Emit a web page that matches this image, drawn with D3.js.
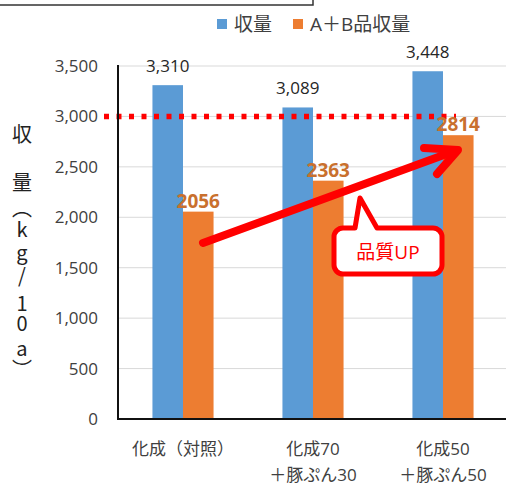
<!DOCTYPE html>
<html><head><meta charset="utf-8">
<script src="https://cdn.jsdelivr.net/npm/d3@7"></script>
<style>body{margin:0;background:#fff}svg{display:block}</style>
</head><body>
<svg id="c" width="506" height="485"></svg>
<script>
const categories = [["化成（対照）"], ["化成70", "＋豚ぷん30"], ["化成50", "＋豚ぷん50"]];
const seriesNames = ["収量", "A＋B品収量"];
const totalYield = [3310, 3089, 3448];
const abYield = [2056, 2363, 2814];
const yTicks = [0, 500, 1000, 1500, 2000, 2500, 3000, 3500];
const targetLine = 3000;
const yTitle = "収量︵kg/10a︶";

const FONT = "'Open Sans','Noto Sans CJK JP',sans-serif";
const colors = ["#5B9BD5", "#ED7D31"];
const svg = d3.select("#c");
const W = 506;

const y = d3.scaleLinear().domain([0, 3500]).range([419, 66]);
const x = d3.scaleBand().domain(d3.range(categories.length)).range([118, 508])
  .paddingInner(0.53).paddingOuter(0.265);
const xs = d3.scaleBand().domain(d3.range(seriesNames.length)).range([0, x.bandwidth()]);

// top box
svg.append("rect").attr("x", -5).attr("y", -20).attr("width", 318).attr("height", 25)
  .attr("fill", "#fff").attr("stroke", "#333").attr("stroke-width", 1.5);

// gridlines
svg.append("g").selectAll("line").data(yTicks.filter(d => d > 0)).join("line")
  .attr("x1", 118).attr("x2", W).attr("y1", d => y(d)).attr("y2", d => y(d))
  .attr("stroke", "#D9D9D9").attr("stroke-width", 1);

// y tick labels
const yAxis = d3.axisLeft(y).tickValues(yTicks).tickSize(0).tickPadding(0)
  .tickFormat(d3.format(","));
const ya = svg.append("g").attr("transform", "translate(98,0)").call(yAxis);
ya.select(".domain").remove();
ya.selectAll("text").attr("font-family", FONT).attr("font-size", 17).attr("fill", "#404040");

// bars
const series = [totalYield, abYield];
series.forEach((vals, si) => {
  svg.append("g").selectAll("rect").data(vals).join("rect")
    .attr("x", (d, i) => x(i) + xs(si)).attr("width", xs.bandwidth())
    .attr("y", d => y(d)).attr("height", d => y(0) - y(d))
    .attr("fill", colors[si]);
});

// target dotted line
svg.append("line").attr("x1", 104).attr("x2", 456).attr("y1", y(targetLine)).attr("y2", y(targetLine))
  .attr("stroke", "#FF0000").attr("stroke-width", 5.5).attr("stroke-dasharray", "5,7.5");

// axes lines
svg.append("line").attr("x1", 118).attr("x2", 118).attr("y1", 65).attr("y2", 420)
  .attr("stroke", "#111").attr("stroke-width", 2);
svg.append("line").attr("x1", 117).attr("x2", W).attr("y1", y(0)).attr("y2", y(0))
  .attr("stroke", "#111").attr("stroke-width", 2);

// value labels
svg.append("g").selectAll("text").data(totalYield).join("text")
  .attr("x", (d, i) => x(i) + xs(0) + xs.bandwidth() / 2).attr("y", d => y(d) - 13)
  .attr("text-anchor", "middle").attr("font-family", FONT).attr("font-size", 17)
  .attr("fill", "#262626").text(d => d3.format(",")(d));
svg.append("g").selectAll("text").data(abYield).join("text")
  .attr("x", (d, i) => x(i) + xs(1) + xs.bandwidth() / 2).attr("y", d => y(d) - 4)
  .attr("text-anchor", "middle").attr("font-family", FONT).attr("font-size", 19)
  .attr("font-weight", "bold").attr("fill", "#C9702E").text(d => d);

// x labels
categories.forEach((lines, i) => {
  const t = svg.append("text").attr("text-anchor", "middle").attr("font-family", FONT)
    .attr("font-size", 17).attr("fill", "#404040");
  lines.forEach((l, li) => {
    t.append("tspan").attr("x", x(i) + x.bandwidth() / 2).attr("y", 455 + li * 26).text(l);
  });
});

// legend
const lg = svg.append("g");
const legX = [217, 293];
seriesNames.forEach((n, i) => {
  lg.append("rect").attr("x", legX[i]).attr("y", 19).attr("width", 10).attr("height", 10).attr("fill", colors[i]);
  lg.append("text").attr("x", legX[i] + 17).attr("y", 31).attr("font-family", FONT)
    .attr("font-size", 19).attr("fill", "#404040").text(n);
});

// y axis title (vertical, one glyph per position)
const yPos = [133, 181, 207, 228, 251, 274, 302, 322, 347, 368];
svg.append("text").attr("font-family", "'Noto Sans CJK JP',sans-serif").attr("font-size", 20)
  .attr("fill", "#222").attr("text-anchor", "middle").attr("dominant-baseline", "central")
  .attr("x", yPos.map(() => 22).join(" ")).attr("y", yPos.join(" ")).text(yTitle);

// red arrow (annotation)
const a0 = [x(0) + x.bandwidth() / 2 + 20, 243], a1 = [458, 150];
const ag = svg.append("g").attr("stroke", "#FF0000").attr("stroke-width", 8)
  .attr("stroke-linecap", "round").attr("stroke-linejoin", "round").attr("fill", "none");
ag.append("line").attr("x1", a0[0]).attr("y1", a0[1]).attr("x2", a1[0] - 6).attr("y2", a1[1] + 2);
ag.append("polyline").attr("points", `424,148 ${a1[0]},${a1[1]} 437,174`);

// callout
const cp = d3.path();
const bx = 334, by = 228, bw = 108, bh = 46, r = 9;
cp.moveTo(bx + r, by);
cp.lineTo(355, by); cp.lineTo(360, 198); cp.lineTo(377, by);
cp.lineTo(bx + bw - r, by); cp.arcTo(bx + bw, by, bx + bw, by + r, r);
cp.lineTo(bx + bw, by + bh - r); cp.arcTo(bx + bw, by + bh, bx + bw - r, by + bh, r);
cp.lineTo(bx + r, by + bh); cp.arcTo(bx, by + bh, bx, by + bh - r, r);
cp.lineTo(bx, by + r); cp.arcTo(bx, by, bx + r, by, r);
cp.closePath();
svg.append("path").attr("d", cp.toString()).attr("fill", "#fff").attr("stroke", "#FF0000")
  .attr("stroke-width", 5).attr("stroke-linejoin", "round");
svg.append("text").attr("x", bx + bw / 2).attr("y", by + 31).attr("text-anchor", "middle")
  .attr("font-family", FONT).attr("font-size", 19).attr("fill", "#FF0000").text("品質UP");
</script>
</body></html>
